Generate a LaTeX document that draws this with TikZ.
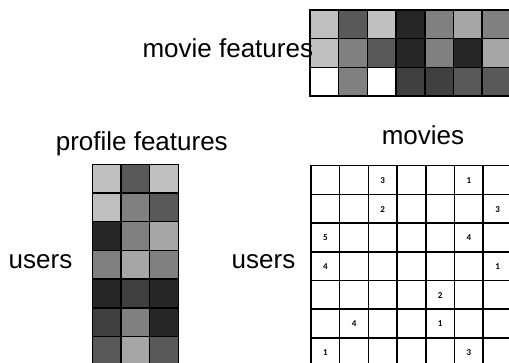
\documentclass[tikz,border=0pt]{standalone}
\usepackage{fontspec}
\setmainfont{Liberation Sans}
\newfontfamily\numfont{Carlito}
\definecolor{gC0}{HTML}{C0C0C0}
\definecolor{g5A}{HTML}{595959}
\definecolor{g26}{HTML}{262626}
\definecolor{g80}{HTML}{808080}
\definecolor{gA6}{HTML}{A6A6A6}
\definecolor{g40}{HTML}{404040}
\definecolor{gFF}{HTML}{FFFFFF}
\begin{document}
\begin{tikzpicture}[x=1pt,y=-1pt,
  cell/.style={draw=black,line width=1.5pt},
  lbl/.style={font=\fontsize{26}{30}\selectfont, anchor=base, inner sep=0pt},
  num/.style={font=\numfont\bfseries\fontsize{9}{10}\selectfont, inner sep=0pt}]
\useasboundingbox (0,0) rectangle (509,362);
\clip (0,0) rectangle (509,362);
% top matrix: movie features
\foreach \row [count=\r from 0] in {{C0,5A,C0,26,80,A6,80},{C0,80,5A,26,80,26,A6},{FF,80,FF,40,40,5A,5A}} {
  \foreach \c [count=\k from 0] in \row {
    \draw[cell, fill=g\c] ({310+28.7*\k},{10+28.7*\r}) rectangle ++(28.7,28.7);
  }
}
% left matrix: profile features
\foreach \row [count=\r from 0] in {{C0,5A,C0},{C0,80,5A},{26,80,A6},{80,A6,80},{26,40,26},{40,80,26},{5A,A6,5A},{5A,A6,5A}} {
  \foreach \c [count=\k from 0] in \row {
    \draw[cell, fill=g\c] ({92.3+28.7*\k},{164.3+28.7*\r}) rectangle ++(28.7,28.7);
  }
}
% ratings matrix
\foreach \r in {0,...,7} {
  \foreach \k in {0,...,7} {
    \draw[cell, fill=white] ({311+28.7*\k},{165.7+28.7*\r}) rectangle ++(28.7,28.7);
  }
}
\foreach \r/\k/\v in {0/2/3,0/5/1,1/2/2,1/6/3,2/0/5,2/5/4,3/0/4,3/6/1,4/4/2,5/1/4,5/4/1,6/0/1,6/5/3} {
  \node[num] (n\r\k) at ({311+28.7*\k+14.35},{165.7+28.7*\r+14.8}) {\v};
}
% labels
\node[lbl] (mf) at (227.8,57) {movie features};
\node[lbl] (pf) at (141.8,150) {profile features};
\node[lbl] (mv) at (423,144) {movies};
\node[lbl] (u1) at (40.5,268) {users};
\node[lbl] (u2) at (263.5,268) {users};
\end{tikzpicture}
\end{document}
